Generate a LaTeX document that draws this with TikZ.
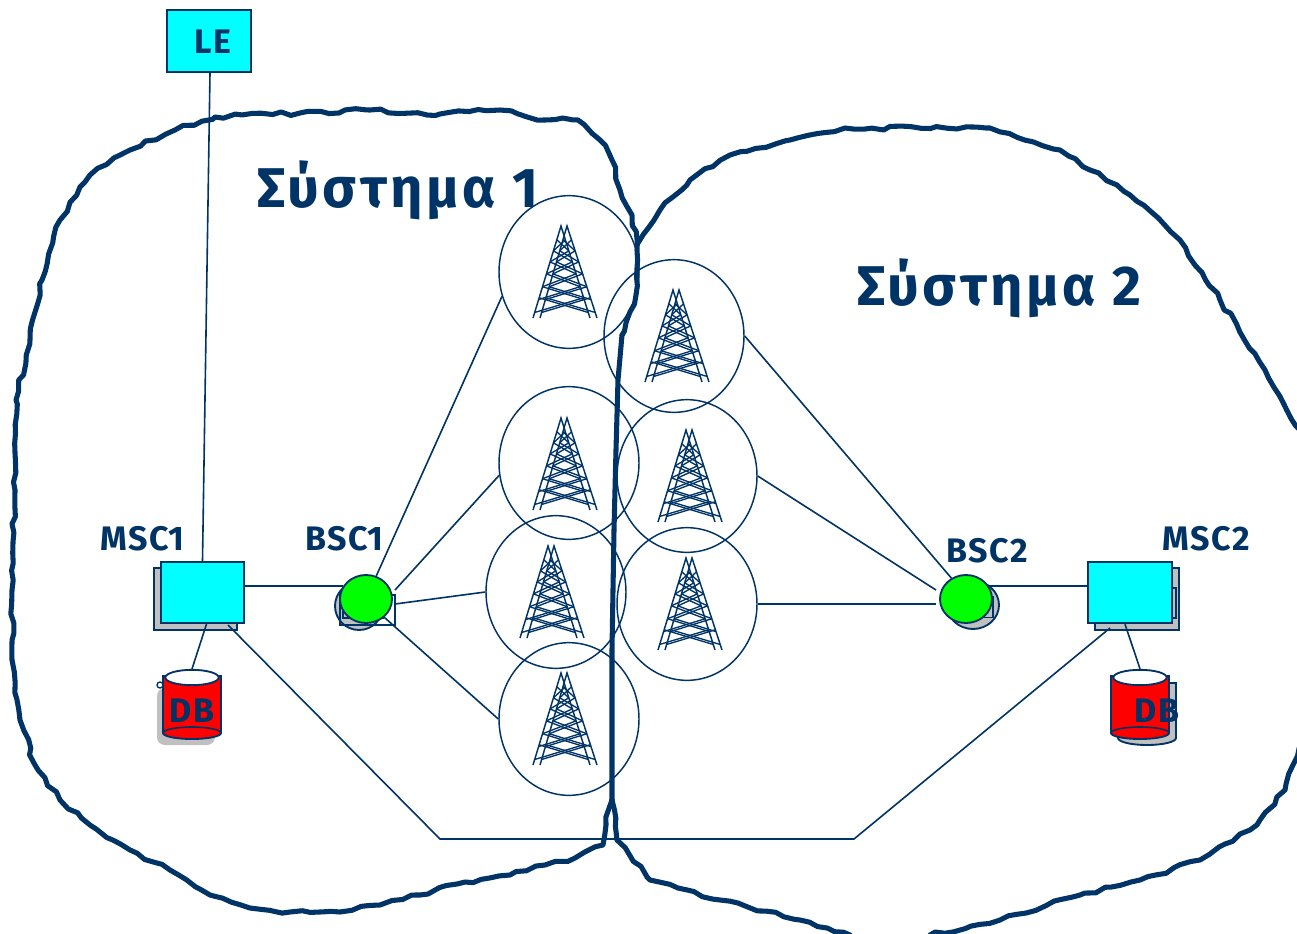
\documentclass[tikz,border=0pt]{standalone}
\usepackage{fontspec}
\setmainfont{Fira Sans}
\newfontfamily\titlefont[LetterSpace=6]{Fira Sans Bold}
\newfontfamily\labelfont[LetterSpace=5]{Fira Sans Bold}
\usetikzlibrary{shapes.geometric,calc,decorations.pathmorphing}
\definecolor{navy}{HTML}{003366}
\definecolor{backgray}{HTML}{C0C0C0}
\definecolor{aqua}{HTML}{00FFFF}
\definecolor{lime}{HTML}{00FF00}
\tikzset{
  x=0.75pt,y=-0.75pt,
  wire/.style={draw=navy,line width=1.2pt},
  plainborder/.style={draw=navy,line width=3.8pt,line join=round,line cap=round},
  border/.style={plainborder,decorate,decoration={random steps,segment length=7pt,amplitude=1.5pt}},
  cell/.style={ellipse,draw=navy,line width=1.1pt,minimum width=105pt,minimum height=114.5pt,inner sep=0pt},
  boxnode/.style={rectangle,draw=navy,line width=1.4pt,inner sep=0pt,minimum width=62.5pt,minimum height=46pt},
  aquabox/.style={boxnode,fill=aqua},
  graybox/.style={boxnode,fill=backgray},
  greendisc/.style={ellipse,draw=navy,line width=1.4pt,fill=lime,minimum width=39pt,minimum height=36pt,inner sep=0pt},
  graydisc/.style={greendisc,fill=backgray},
  title/.style={text=navy,font=\titlefont\fontsize{42}{42}\selectfont,inner sep=0pt},
  tag/.style={text=navy,font=\labelfont\fontsize{25.5}{25.5}\selectfont,inner sep=0pt},
  tower/.pic={
    \foreach \dx/\ll/\lr in {-4/-32/25,2/-25/32}{
      \coordinate (A) at (\dx,-46);
      \coordinate (L) at (\ll,46);
      \coordinate (R) at (\lr,46);
      \draw[navy,line width=1.1pt] (L) -- (A) -- (R);
      \foreach \u/\v in {.15/.27,.27/.39,.39/.52,.52/.66,.66/.80,.78/.94}{
        \draw[navy,line width=1pt] ($(A)!\u!(L)$) -- ($(A)!\v!(R)$);
        \draw[navy,line width=1pt] ($(A)!\u!(R)$) -- ($(A)!\v!(L)$);
      }
    }
  }
}
\pgfmathsetseed{17}
\begin{document}
\begin{tikzpicture}
\useasboundingbox (0,0) rectangle (1297,933);
\fill[white] (0,0) rectangle (1297,933);
\begin{scope}
\clip (0,0) rectangle (1297,933);
% system outlines
\draw[border] (612,800) -- (606,825) -- (603,845) -- (575,858) -- (545,865) -- (510,875) -- (465,882) -- (420,895) -- (380,905) -- (340,912) -- (290,912) -- (250,908) -- (210,895) -- (170,870) -- (130,850) -- (90,825) -- (60,800) -- (35,765) -- (20,720) -- (12,660) -- (12,590) -- (15,490) -- (16,400) -- (30,340) -- (42,280) -- (60,220) -- (90,175) -- (130,150) -- (175,130) -- (215,117) -- (300,113) -- (370,110) -- (440,114) -- (500,110) -- (545,120) -- (578,120) -- (600,140) -- (612,160) -- (620,190) -- (632,215) -- (637,250) -- (636,295) -- (622,335);
\draw[plainborder] (622,335) -- (618,380) -- (616,450) -- (614,530) -- (612,650) -- (612,800);
\draw[border] (638,243) -- (660,210) -- (690,180) -- (730,155) -- (790,140) -- (845,128) -- (990,128) -- (1060,150) -- (1130,195) -- (1180,240) -- (1220,300) -- (1265,370) -- (1305,440);
\draw[border] (1305,730) -- (1285,790) -- (1250,830) -- (1200,860) -- (1140,880) -- (1080,895) -- (1000,920) -- (930,935);
\draw[border] (612,800) -- (617,840) -- (650,880) -- (720,900) -- (800,920) -- (850,935);
\end{scope}
% titles
\node[title,anchor=base west] (sys1) at (257,207) {Σύστημα 1};
\node[title,anchor=base west] (sys2) at (857,305) {Σύστημα 2};
% cells
\node[cell] (t1) at (569,272) {};
\node[cell] (t2) at (569,463) {};
\node[cell] (t3) at (556,592) {};
\node[cell] (t4) at (569,719) {};
\node[cell] (r1) at (674,336) {};
\node[cell] (r2) at (687,476) {};
\node[cell] (r3) at (687,604) {};
\pic at (565,272) {tower};
\pic at (565,464) {tower};
\pic at (552,592) {tower};
\pic at (565,719) {tower};
\pic at (677,336) {tower};
\pic at (690,476) {tower};
\pic at (690,604) {tower};
% LE
\node[aquabox,minimum height=46.5pt] (le) at (209,41) {};
\node[tag,anchor=center] (letag) at (213,42) {LE};
% MSC1
\node[graybox] (msc1s) at (195.5,599) {};
\node[aquabox] (msc1) at (202.5,592.5) {};
\node[tag,anchor=base west] (msc1tag) at (100,550) {MSC1};
% BSC1
\node[graydisc,minimum width=36pt,minimum height=36pt] (bsc1s) at (359,606) {};
\node[boxnode,minimum width=41.5pt,minimum height=23pt] (bsc1b) at (367.5,610) {};
\node[graybox,minimum width=30pt,minimum height=15pt] (bsc1i) at (363,608) {};
\node[greendisc] (bsc1) at (366,599) {};
\node[tag,anchor=base west] (bsc1tag) at (305,550) {BSC1};
\coordinate (bsc1a) at (395,590);
\coordinate (bsc1c) at (395,604);
% BSC2
\node[graydisc] (bsc2s) at (973,605) {};
\node[rectangle,draw=navy,line width=1.2pt,minimum width=18pt,minimum height=16pt,inner sep=0pt] (bsc2b) at (981,607) {};
\node[greendisc] (bsc2) at (966,599) {};
\node[tag,anchor=base west] (bsc2tag) at (946,562) {BSC2};
\coordinate (bsc2a) at (936,590);
\coordinate (bsc2c) at (936,604);
% MSC2
\node[graybox] (msc2s) at (1137,599) {};
\node[aquabox] (msc2) at (1130,592.5) {};
\node[graybox,minimum width=3pt,minimum height=22pt] (msc2i) at (1174,603) {};
\node[tag,anchor=base west] (msc2tag) at (1162,550) {MSC2};
% DB1
\fill[backgray,rounded corners=6] (157,688) rectangle (215,745);
\draw[navy,line width=1pt] (160,685) circle (3);
\draw[navy,line width=1.4pt,fill=red] (163,676) -- (163,733) arc[start angle=180,end angle=0,x radius=29,y radius=6] -- (221,676) -- cycle;
\draw[navy,line width=1.2pt] (163,733) arc[start angle=180,end angle=360,x radius=29,y radius=6];
\node[ellipse,draw=navy,line width=1.4pt,fill=white,minimum width=40pt,minimum height=11.5pt,inner sep=0pt] (db1) at (192,677.5) {};
\node[tag,anchor=center] (db1tag) at (192,711) {DB};
% DB2
\draw[navy,line width=1.4pt,fill=backgray] (1118,683) -- (1118,738) arc[start angle=180,end angle=0,x radius=29,y radius=7] -- (1176,683) -- cycle;
\draw[navy,line width=1.4pt,fill=red] (1111,676) -- (1111,733) arc[start angle=180,end angle=0,x radius=29,y radius=6] -- (1169,676) -- cycle;
\draw[navy,line width=1.2pt] (1111,733) arc[start angle=180,end angle=360,x radius=29,y radius=6];
\node[ellipse,draw=navy,line width=1.4pt,fill=white,minimum width=40pt,minimum height=11.5pt,inner sep=0pt] (db2) at (1140,677.5) {};
\node[tag,anchor=center] (db2tag) at (1157,711) {DB};
% connectors
\draw[wire] (le.south) ++(1,0) coordinate (leb) -- (msc1.north);
\draw[wire] (msc1.east |- 0,586) coordinate (m1e) -- (bsc1.150 |- 0,586);
\draw[wire] (bsc1.66) -- (t1.200);
\draw[wire] (bsc1a) -- (t2.190);
\draw[wire] (bsc1c) -- (t3.180);
\draw[wire] (bsc1.-45) -- (t4.180);
\draw[wire] (msc1.south) ++(4,0) coordinate (m1b) -- (db1.north);
\coordinate (busl) at (440,839);
\coordinate (busr) at (854,839);
\coordinate (m1s) at (228,625);
\coordinate (m2s) at (1110,628);
\draw[wire] (m1s) -- (busl) -- (busr) -- (m2s);
\draw[wire] (r1.0) -- (bsc2.125);
\draw[wire] (r2.0) -- (bsc2a);
\draw[wire] (r3.0) -- (bsc2c);
\draw[wire] (bsc2.30 |- 0,586) -- (msc2.west |- 0,586);
\draw[wire] (msc2.south) ++(-5,0) coordinate (m2b) -- (db2.north);
\end{tikzpicture}
\end{document}
